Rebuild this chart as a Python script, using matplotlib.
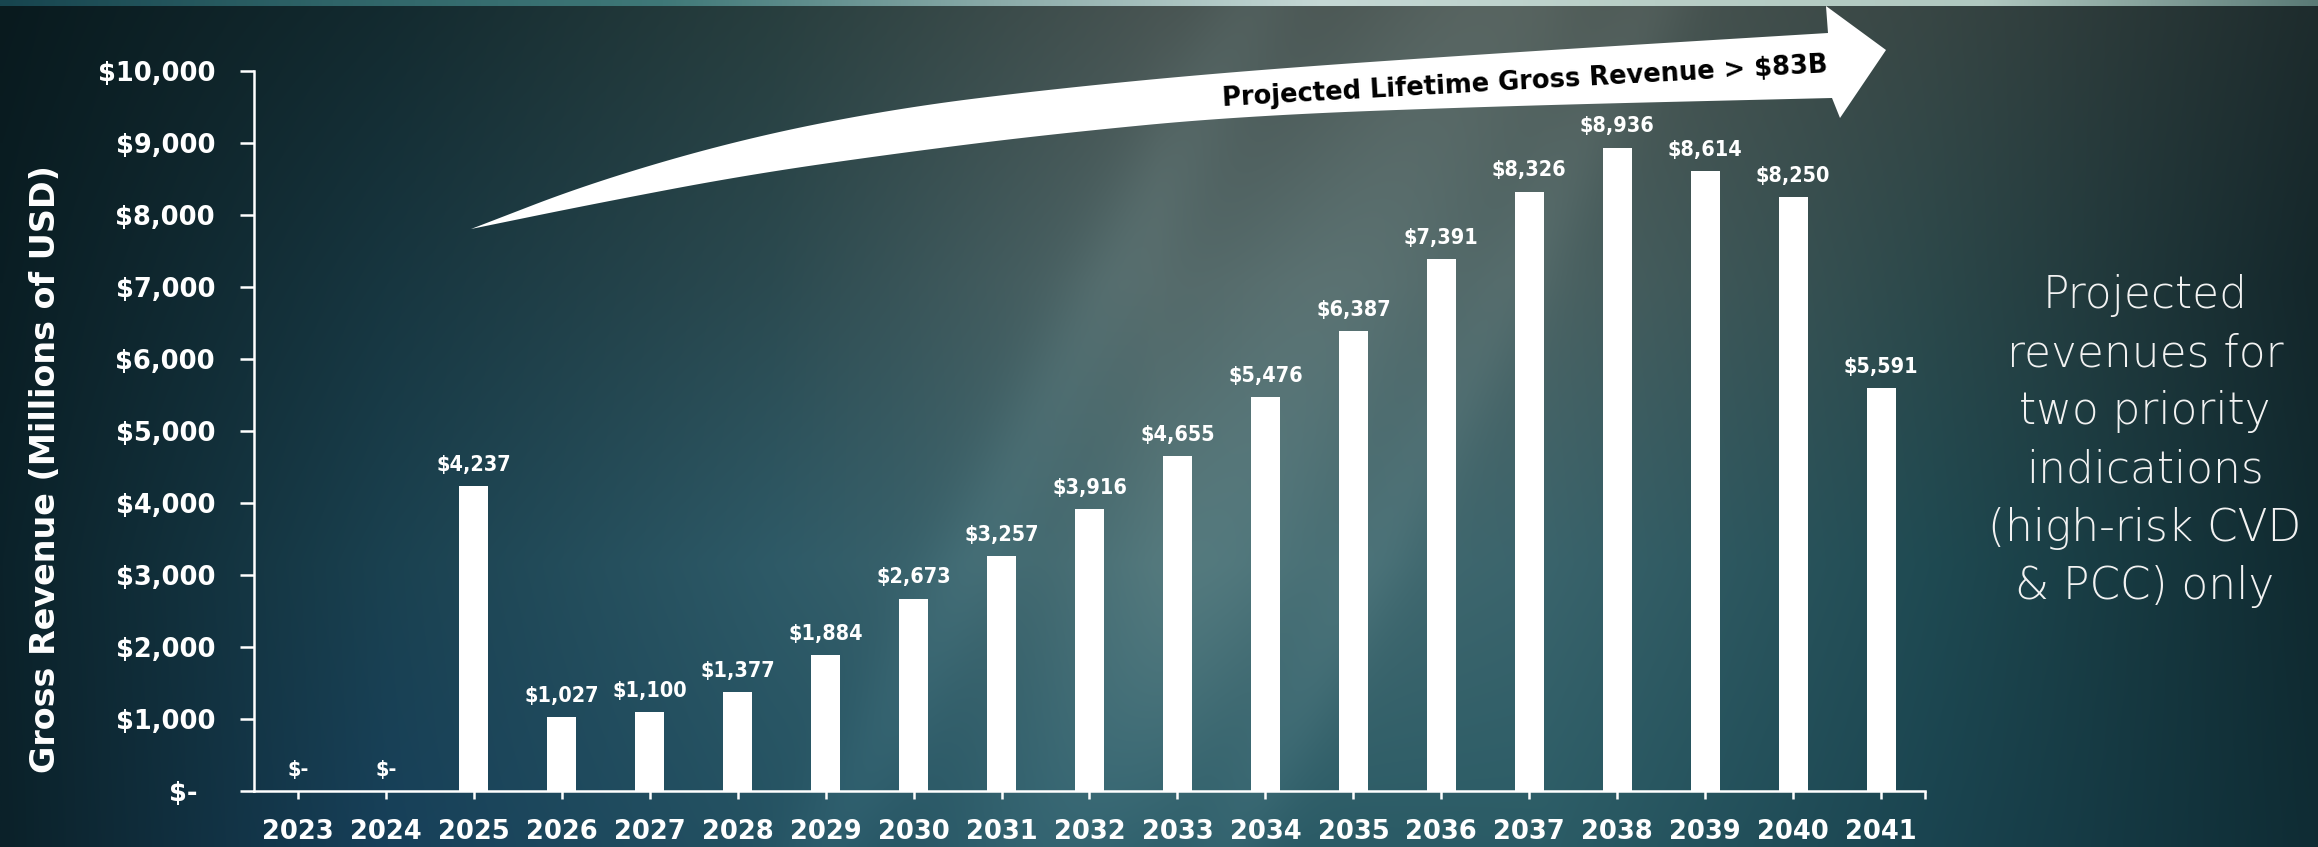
import numpy as np
import matplotlib
matplotlib.use("Agg")
import matplotlib.pyplot as plt
from matplotlib import font_manager
from matplotlib.font_manager import FontProperties
from matplotlib.patches import Polygon
from matplotlib.colors import to_rgb

# data
years = ["2023", "2024", "2025", "2026", "2027", "2028", "2029", "2030", "2031", "2032",
         "2033", "2034", "2035", "2036", "2037", "2038", "2039", "2040", "2041"]
revenue = [0, 0, 4237, 1027, 1100, 1377, 1884, 2673, 3257, 3916,
           4655, 5476, 6387, 7391, 8326, 8936, 8614, 8250, 5591]
y_ticks = [0, 1000, 2000, 3000, 4000, 5000, 6000, 7000, 8000, 9000, 10000]
y_tick_labels = ["$-  ", "$1,000", "$2,000", "$3,000", "$4,000", "$5,000",
                 "$6,000", "$7,000", "$8,000", "$9,000", "$10,000"]
y_title = "Gross Revenue (Millions of USD)"
arrow_text = "Projected Lifetime Gross Revenue > $83B"
side_note = "Projected\nrevenues for\ntwo priority\nindications\n(high-risk CVD\n& PCC) only"

value_labels = ["$-" if v == 0 else "${:,}".format(v) for v in revenue]

W, H = 2318, 847


def find_font(names, weight_ok, stretch_ok=None):
    for name in names:
        for f in font_manager.fontManager.ttflist:
            if f.name != name:
                continue
            w = f.weight
            if not isinstance(w, (int, float)):
                w = font_manager.weight_dict.get(str(w), 400)
            if not weight_ok(w):
                continue
            if stretch_ok is not None and not stretch_ok(str(f.stretch)):
                continue
            return f.fname
    return None


# condensed bold for the value labels
narrow = find_font(["Liberation Sans Narrow"], lambda w: w >= 600)
if narrow:
    num_fp = FontProperties(fname=narrow, size=20)
else:
    cond = find_font(["DejaVu Sans", "DejaVu Sans Condensed"], lambda w: w >= 600,
                     lambda s: "condensed" in s)
    if cond:
        num_fp = FontProperties(fname=cond, size=15.5)
    else:
        num_fp = FontProperties(family="DejaVu Sans", weight="bold", size=14.5)

# light face for the side note
light = find_font(["DejaVu Sans", "Lato", "Open Sans", "Roboto", "Noto Sans"],
                  lambda w: w <= 300, lambda s: "condensed" not in s)
if light:
    size = 31.5
    if "Lato" in light:
        size = 35
    elif "Roboto" in light:
        size = 33
    light_fp = FontProperties(fname=light, size=size)
else:
    light_fp = FontProperties(family="DejaVu Sans", size=30)

fig = plt.figure(figsize=(W / 100, H / 100), dpi=100)

# background
bg_grid = [
    ["#091a1e", "#132a2f", "#283e3e", "#485452", "#4d5854", "#384644", "#1e2c2d"],
    ["#0a1e24", "#173640", "#2b4a50", "#536868", "#4b6262", "#2c484a", "#14272b"],
    ["#0b222a", "#1a4150", "#2e5a67", "#4a6e72", "#3a646c", "#1f4a52", "#102a30"],
    ["#0b2129", "#17405a", "#245262", "#2a5a66", "#2b5c66", "#1a4450", "#0f2c34"],
]
g = np.array([[to_rgb(c) for c in row] for row in bg_grid])
gh, gw = g.shape[:2]
h, w = 170, 464
xs = np.linspace(0, gw - 1, w)
ys = np.linspace(0, gh - 1, h)
tmp = np.stack([np.stack([np.interp(xs, np.arange(gw), g[r, :, c]) for c in range(3)], -1)
                for r in range(gh)])
bg = np.stack([np.stack([np.interp(ys, np.arange(gh), tmp[:, j, c]) for c in range(3)], -1)
               for j in range(w)], 1)
X, Y = np.meshgrid(np.linspace(0, W, w), np.linspace(0, H, h))
u = (X + 0.5 * Y) / 1.118
bg += 0.05 * np.exp(-((u - 1330) / 110) ** 2)[..., None] * np.array([0.9, 1.0, 1.0])
bg += 0.035 * np.exp(-((u - 1120) / 45) ** 2)[..., None] * np.array([0.8, 1.0, 1.0])
bg += 0.03 * np.exp(-((u - 1480) / 40) ** 2)[..., None]
bg = np.clip(bg, 0, 1)
bax = fig.add_axes([0, 0, 1, 1], zorder=-10)
bax.imshow(bg, extent=[0, W, H, 0], aspect="auto", interpolation="bilinear")
bax.set_xlim(0, W)
bax.set_ylim(H, 0)
bax.axis("off")

# top strip
strip_cols = ["#17454f", "#2f6468", "#3f7878", "#8aaaa8", "#c5d8d5", "#b8cec6", "#b0c8c0", "#5a7a76"]
sc = np.array([to_rgb(c) for c in strip_cols])
sx = np.linspace(0, len(strip_cols) - 1, 600)
strip = np.stack([np.interp(sx, np.arange(len(strip_cols)), sc[:, c]) for c in range(3)], -1)[None]
sax = fig.add_axes([0, 1 - 6 / H, 1, 6 / H], zorder=-9)
sax.imshow(strip, aspect="auto", interpolation="bilinear")
sax.axis("off")

# chart
ax = fig.add_axes([254 / W, 1 - 791 / H, (1925 - 254) / W, (791 - 71) / H])
ax.set_facecolor("none")
x = np.arange(len(years))
bars = ax.bar(x, revenue, width=0.33, color="white", zorder=3)
ax.bar_label(bars, labels=value_labels, padding=8, color="white", fontproperties=num_fp)
ax.set_xlim(-0.5, len(years) - 0.5)
ax.set_ylim(0, 10000)

for s in ["top", "right"]:
    ax.spines[s].set_visible(False)
for s in ["left", "bottom"]:
    ax.spines[s].set_color("white")
    ax.spines[s].set_linewidth(1.8)

ax.set_xticks(x, years)
ax.set_xticks([len(years) - 0.5], minor=True)
ax.set_yticks(y_ticks, y_tick_labels)
ax.tick_params(axis="x", which="both", colors="white", length=6, width=1.8, pad=14)
ax.tick_params(axis="y", colors="white", length=10, width=1.8, pad=18)
for lbl in ax.get_xticklabels() + ax.get_yticklabels():
    lbl.set_fontsize(18.5)
    lbl.set_fontweight("bold")

ax.set_ylabel(y_title, fontsize=24, fontweight="bold", color="white")
ax.yaxis.set_label_coords(-0.115, 0.447)


# curved arrow (pixel coords of the slide)
def chaikin(pts, n=4):
    for _ in range(n):
        new = [pts[0]]
        for a, b in zip(pts[:-1], pts[1:]):
            new.append(0.75 * a + 0.25 * b)
            new.append(0.25 * a + 0.75 * b)
        new.append(pts[-1])
        pts = np.array(new)
    return pts


top_edge = np.array([(471, 229), (593, 182), (746, 138), (899, 108), (1052, 89),
                     (1240, 71), (1500, 53), (1828, 33)], dtype=float)
bot_edge = np.array([(471, 229), (593, 204), (746, 175), (899, 153), (1052, 134),
                     (1240, 116), (1500, 106), (1832, 98)], dtype=float)
head = np.array([(1826, 6), (1886, 50), (1840, 118)], dtype=float)
outline = np.vstack([chaikin(top_edge), head, chaikin(bot_edge)[::-1]])
outline[:, 0] /= W
outline[:, 1] = 1 - outline[:, 1] / H
fig.add_artist(Polygon(outline, closed=True, facecolor="white", edgecolor="none",
                       transform=fig.transFigure, zorder=5))
fig.text(1525 / W, 1 - 82 / H, arrow_text, rotation=3.2, rotation_mode="anchor",
         ha="center", va="center", fontsize=18.5, fontweight="bold", color="black", zorder=6)

fig.text(2145 / W, 1 - 441 / H, side_note, ha="center", va="center", multialignment="center",
         linespacing=1.45, color="#f2f2f2", fontproperties=light_fp)

fig.savefig("out.png", dpi=100)
